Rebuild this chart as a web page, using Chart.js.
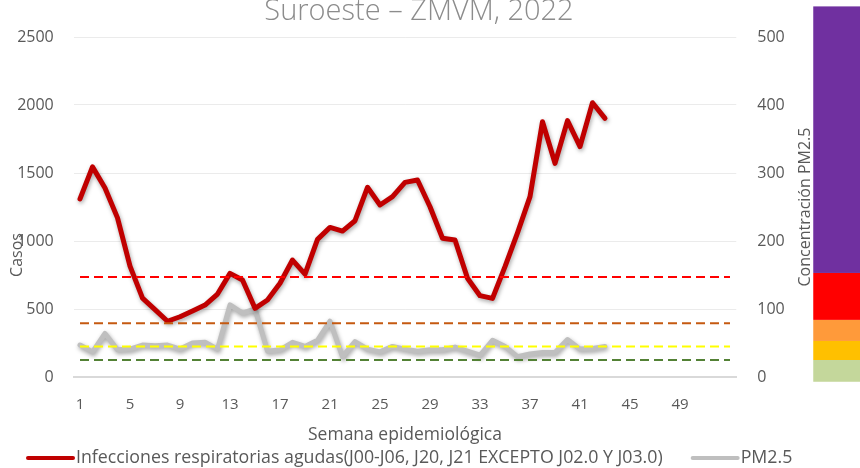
<!DOCTYPE html>
<html>
<head>
<meta charset="utf-8">
<script src="https://cdn.jsdelivr.net/npm/chart.js@4.4.1/dist/chart.umd.min.js"></script>
<style>
  html, body { margin: 0; padding: 0; background: #ffffff; }
  #wrap { width: 860px; height: 468px; position: relative; }
</style>
</head>
<body>
<div id="wrap"><canvas id="c" width="860" height="468"></canvas></div>
<script>
// Semanas epidemiológicas (categorías del eje X)
const semanas = ['1','2','3','4','5','6','7','8','9','10','11','12','13','14','15','16','17','18',
  '19','20','21','22','23','24','25','26','27','28','29','30','31','32','33','34','35','36',
  '37','38','39','40','41','42','43','44','45','46','47','48','49','50','51','52','53'];

// Semanas rotuladas en el eje X
const etiquetasX = ['1','5','9','13','17','21','25','29','33','37','41','45','49'];

// Casos de infecciones respiratorias agudas por semana (eje izquierdo)
const casosIRA = [1310, 1545, 1390, 1170, 815, 580, 495, 410, 443, 485, 529, 610, 762, 713, 505,
  566, 689, 860, 757, 1012, 1100, 1073, 1149, 1395, 1265, 1326, 1431, 1449, 1252, 1020, 1007,
  726, 598, 578, 811, 1060, 1326, 1877, 1571, 1885, 1694, 2017, 1902];

// Concentración de PM2.5 por semana (eje derecho)
const pm25 = [47, 37, 64, 40, 41, 47, 46, 47, 41, 50, 51, 41, 106, 94, 100, 38, 40, 51, 45, 54,
  82, 30, 52, 41, 37, 45, 41, 38, 40, 40, 44, 38, 32, 54, 45, 30, 34, 36, 36, 55, 41, 42, 45];

// Límites de calidad del aire para PM2.5 (líneas punteadas)
const limitesPM = [25, 45, 79, 147];
const coloresLimites = ['#538135', '#FFFF00', '#C55A11', '#FF0000'];

// Franja de color de la escala de calidad del aire (valores en el eje derecho)
const franjaPM = [-7, 25, 53, 84, 153, 545];
const coloresFranja = ['#C4D79B', '#FFC000', '#FF9A3A', '#FF0000', '#7030A0'];

// Marcas de los ejes
const ticksCasos = [0, 500, 1000, 1500, 2000, 2500];
const ticksPM = [0, 100, 200, 300, 400, 500];

const titulo = 'Suroeste \u2013 ZMVM, 2022';
const tituloX = 'Semana epidemiológica';
const tituloY = 'Casos';
const tituloY1 = 'Concentración PM2.5';

const FONT = '"Open Sans", "DejaVu Sans", sans-serif';
const GRIS_TEXTO = '#595959';

const datasets = [
  {
    label: 'Infecciones respiratorias agudas(J00-J06, J20, J21 EXCEPTO J02.0 Y J03.0)',
    data: casosIRA,
    yAxisID: 'y',
    borderColor: '#C00000',
    backgroundColor: '#C00000',
    borderWidth: 5,
    pointRadius: 0,
    tension: 0,
    borderJoinStyle: 'round',
    borderCapStyle: 'round',
    fill: false,
    shadow: true,
    order: 2
  },
  {
    label: 'PM2.5',
    data: pm25,
    yAxisID: 'y1',
    borderColor: '#BFBFBF',
    backgroundColor: '#BFBFBF',
    borderWidth: 5,
    pointRadius: 0,
    tension: 0,
    borderJoinStyle: 'round',
    borderCapStyle: 'round',
    fill: false,
    shadow: true,
    order: 3
  }
];

limitesPM.forEach((v, i) => {
  datasets.push({
    label: 'limite' + v,
    data: semanas.map(() => v),
    yAxisID: 'y1',
    borderColor: coloresLimites[i],
    borderWidth: 2,
    borderDash: [9, 5],
    pointRadius: 0,
    fill: false,
    order: 1,
    enLeyenda: false
  });
});

// Sombra suave bajo las series principales
const sombra = {
  id: 'sombra',
  beforeDatasetDraw(chart, args) {
    const ds = chart.data.datasets[args.index];
    if (!ds.shadow) return;
    const ctx = chart.ctx;
    ctx.save();
    ctx.shadowColor = 'rgba(0,0,0,0.35)';
    ctx.shadowBlur = 4;
    ctx.shadowOffsetX = 1;
    ctx.shadowOffsetY = 2;
  },
  afterDatasetDraw(chart, args) {
    const ds = chart.data.datasets[args.index];
    if (!ds.shadow) return;
    chart.ctx.restore();
  }
};

// Títulos, franja de colores y leyenda
const decoracion = {
  id: 'decoracion',
  beforeDraw(chart) {
    const ctx = chart.ctx;
    ctx.save();
    ctx.fillStyle = '#ffffff';
    ctx.fillRect(0, 0, chart.width, chart.height);
    ctx.restore();
  },
  afterDraw(chart) {
    const { ctx, chartArea: a, scales } = chart;
    const y1 = scales.y1;
    ctx.save();

    // franja de calidad del aire
    const xf = a.right + 77;
    for (let i = 0; i < coloresFranja.length; i++) {
      const top = y1.getPixelForValue(franjaPM[i + 1]);
      const bot = y1.getPixelForValue(franjaPM[i]);
      ctx.fillStyle = coloresFranja[i];
      ctx.fillRect(xf, top, chart.width - xf, bot - top);
    }

    // título
    ctx.fillStyle = '#8C8C8C';
    ctx.font = '300 29px ' + FONT;
    ctx.textAlign = 'center';
    ctx.textBaseline = 'alphabetic';
    ctx.fillText(titulo, 419, 20);

    // título eje X
    ctx.fillStyle = GRIS_TEXTO;
    ctx.font = '17.5px ' + FONT;
    ctx.textBaseline = 'middle';
    ctx.fillText(tituloX, (a.left + a.right) / 2, 435);

    // título eje Y
    ctx.font = '16px ' + FONT;
    ctx.save();
    ctx.translate(17, 255);
    ctx.rotate(-Math.PI / 2);
    ctx.fillText(tituloY, 0, 0);
    ctx.restore();

    // título eje Y derecho
    ctx.save();
    ctx.translate(805, (a.top + a.bottom) / 2);
    ctx.rotate(-Math.PI / 2);
    ctx.fillText(tituloY1, 0, 0);
    ctx.restore();

    // leyenda
    const yl = 458;
    let x = 28;
    ctx.font = '17.8px ' + FONT;
    ctx.textAlign = 'left';
    chart.data.datasets.forEach(ds => {
      if (ds.enLeyenda === false) return;
      ctx.strokeStyle = ds.borderColor;
      ctx.lineWidth = 4;
      ctx.lineCap = 'round';
      ctx.beginPath();
      ctx.moveTo(x, yl);
      ctx.lineTo(x + 45, yl);
      ctx.stroke();
      ctx.fillStyle = GRIS_TEXTO;
      ctx.fillText(ds.label, x + 48, yl);
      x += 48 + ctx.measureText(ds.label).width + 30;
    });

    ctx.restore();
  }
};

new Chart(document.getElementById('c'), {
  type: 'line',
  data: { labels: semanas, datasets },
  plugins: [sombra, decoracion],
  options: {
    responsive: false,
    animation: false,
    layout: { padding: { top: 37, left: 0, right: 0, bottom: 0 } },
    plugins: {
      legend: { display: false },
      title: { display: false },
      tooltip: { enabled: false }
    },
    scales: {
      x: {
        type: 'category',
        offset: true,
        grid: { display: false, drawTicks: false },
        border: { display: true, color: '#D9D9D9', width: 2 },
        ticks: {
          autoSkip: false,
          maxRotation: 0,
          minRotation: 0,
          padding: 19,
          color: GRIS_TEXTO,
          font: { family: FONT, size: 15 },
          callback: (v, i) => (etiquetasX.includes(semanas[i]) ? semanas[i] : '')
        },
        afterFit: s => { s.height = 91; }
      },
      y: {
        position: 'left',
        min: ticksCasos[0],
        max: ticksCasos[ticksCasos.length - 1],
        afterBuildTicks: s => { s.ticks = ticksCasos.map(v => ({ value: v })); },
        grid: {
          drawTicks: false,
          color: ctx => (ctx.tick && ctx.tick.value === 0 ? '#D9D9D9' : '#EBEBEB'),
          lineWidth: ctx => (ctx.tick && ctx.tick.value === 0 ? 2 : 1)
        },
        border: { display: false },
        ticks: {
          padding: 20,
          color: GRIS_TEXTO,
          font: { family: FONT, size: 16 },
          callback: v => String(v)
        },
        afterFit: s => { s.width = 73.75; }
      },
      y1: {
        position: 'right',
        min: ticksPM[0],
        max: ticksPM[ticksPM.length - 1],
        afterBuildTicks: s => { s.ticks = ticksPM.map(v => ({ value: v })); },
        grid: { display: false, drawTicks: false },
        border: { display: false },
        ticks: {
          padding: 21,
          color: GRIS_TEXTO,
          font: { family: FONT, size: 16 },
          callback: v => String(v)
        },
        afterFit: s => { s.width = 123.75; }
      }
    }
  }
});
</script>
</body>
</html>
